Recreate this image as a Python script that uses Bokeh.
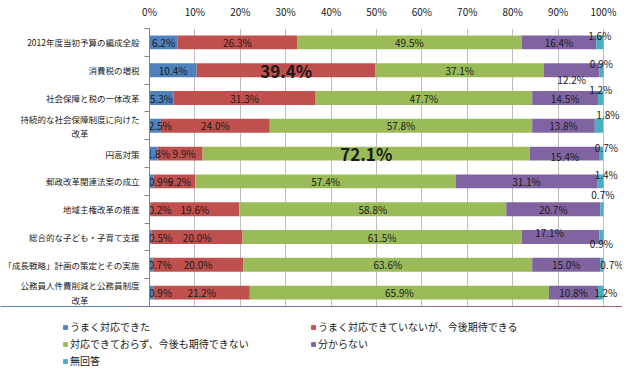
import numpy as np
from bokeh.plotting import figure
from bokeh.models import (ColumnDataSource, Range1d, FixedTicker, Legend, LegendItem)
from bokeh.core.properties import value
from bokeh.embed import file_html
from bokeh.resources import INLINE

categories = [
    "2012年度当初予算の編成全般",
    "消費税の増税",
    "社会保障と税の一体改革",
    "持続的な社会保障制度に向けた改革",
    "円高対策",
    "郵政改革関連法案の成立",
    "地域主権改革の推進",
    "総合的な子ども・子育て支援",
    "「成長戦略」計画の策定とその実施",
    "公務員人件費削減と公務員制度改革",
]
label_display = {
    "持続的な社会保障制度に向けた改革": "持続的な社会保障制度に向けた\n改革\u3000\u3000\u3000\u3000\u3000\u3000",
    "公務員人件費削減と公務員制度改革": "公務員人件費削減と公務員制度\n改革\u3000\u3000\u3000\u3000\u3000\u3000",
}
series_names = [
    "うまく対応できた",
    "うまく対応できていないが、今後期待できる",
    "対応できておらず、今後も期待できない",
    "分からない",
    "無回答",
]
good = [6.2, 10.4, 5.3, 2.5, 1.8, 0.9, 0.2, 0.5, 0.7, 0.9]
hopeful = [26.3, 39.4, 31.3, 24.0, 9.9, 9.2, 19.6, 20.0, 20.0, 21.2]
bad = [49.5, 37.1, 47.7, 57.8, 72.1, 57.4, 58.8, 61.5, 63.6, 65.9]
unknown = [16.4, 12.2, 14.5, 13.8, 15.4, 31.1, 20.7, 17.1, 15.0, 10.8]
no_answer = [1.6, 0.9, 1.2, 1.8, 0.7, 1.4, 0.7, 0.9, 0.7, 1.2]
x_ticks = [0, 10, 20, 30, 40, 50, 60, 70, 80, 90, 100]

colors = ["#4F81BD", "#C0504D", "#9BBB59", "#8064A2", "#4BACC6"]
FONT = "Noto Sans CJK JP"

# label placement tweaks (row, series) -> (dx px, dy px; screen, down = +), styling only
label_offsets = {
    (0, 4): (0, -7), (1, 4): (0, -7), (1, 3): (0, 9), (2, 4): (0, -9),
    (3, 4): (9, -11), (4, 4): (5, -6), (4, 3): (0, 3), (5, 4): (6, -7),
    (6, 4): (1, -15), (7, 3): (-11, -5), (7, 4): (0, 6), (8, 4): (10, 0),
    (9, 4): (5, 0),
    (3, 0): (5, 0), (4, 0): (5, 0), (5, 0): (9, 0), (6, 0): (10, 0),
    (7, 0): (10, 0), (8, 0): (9, 0), (9, 0): (9, 0), (5, 1): (5, 0), (4, 1): (4, 0),
}
bold_labels = {(1, 1), (4, 2)}

data = np.array([good, hopeful, bad, unknown, no_answer])
n = len(categories)
ypos = np.array([n - 0.5 - i for i in range(n)])

p = figure(width=622, height=306, output_backend="svg", toolbar_location=None,
           x_range=Range1d(0, 104.2), y_range=Range1d(0, n),
           x_axis_location="above", min_border_left=137, min_border_right=0,
           min_border_top=19, min_border_bottom=0)
p.outline_line_color = None
p.background_fill_color = "white"

sources = []
left = np.zeros(n)
for k, name in enumerate(series_names):
    vals = data[k]
    src = ColumnDataSource(dict(y=ypos, left=left.copy(), right=left + vals))
    sources.append(src)
    p.hbar(y="y", left="left", right="right", height=0.5, source=src,
           fill_color=colors[k], line_color=None)
    left = left + vals

# labels
lx, ly, lt, ldx, ldy, lsize, lstyle = [], [], [], [], [], [], []
cum = np.zeros(n)
for k in range(len(series_names)):
    for i in range(n):
        v = data[k][i]
        lx.append(cum[i] + v / 2)
        ly.append(ypos[i])
        lt.append(f"{v:.1f}%")
        dx, dy = label_offsets.get((i, k), (0, 0))
        ldx.append(dx)
        ldy.append(dy)
        if (i, k) in bold_labels:
            lsize.append("17px"); lstyle.append("bold")
        else:
            lsize.append("10px"); lstyle.append("normal")
    cum = cum + data[k]
lsrc = ColumnDataSource(dict(x=lx, y=ly, t=lt, dx=ldx, dy=ldy, s=lsize, st=lstyle))
p.text(x="x", y="y", text="t", x_offset="dx", y_offset="dy", text_font_size="s",
       text_font_style="st", text_align="center", text_baseline="middle",
       text_color="#1a1a1a", text_font=value(FONT), source=lsrc)

# x axis (top)
xa = p.xaxis[0]
xa.ticker = FixedTicker(ticks=x_ticks)
xa.major_label_overrides = {t: f"{t}%" for t in x_ticks}
xa.axis_line_color = None
xa.major_tick_line_color = None
xa.minor_tick_line_color = None
xa.major_label_standoff = 4
xa.major_label_text_font = FONT
xa.major_label_text_font_size = "10px"
xa.major_label_text_color = "#1a1a1a"

# y axis
ya = p.yaxis[0]
ya.ticker = FixedTicker(ticks=list(ypos), minor_ticks=list(range(n + 1)))
ya.major_label_overrides = {float(ypos[i]): label_display.get(c, c) for i, c in enumerate(categories)}
ya.axis_line_color = "#868686"
ya.major_tick_line_color = None
ya.major_tick_out = 0
ya.minor_tick_line_color = "#868686"
ya.minor_tick_out = 5
ya.minor_tick_in = 0
ya.major_label_standoff = 5
ya.major_label_text_font = FONT
ya.major_label_text_font_size = "8.5px"
ya.major_label_text_color = "#1a1a1a"

p.xgrid.grid_line_color = "#BEBEBE"
p.xgrid.ticker = FixedTicker(ticks=x_ticks)
p.ygrid.grid_line_color = None

# legend figure (separate root so its frame is not aligned with the chart's)
p2 = figure(width=622, height=62, output_backend="svg", toolbar_location=None,
            x_range=Range1d(0, 1), y_range=Range1d(-30, -29),
            x_axis_location=None, y_axis_location=None,
            min_border_left=0, min_border_right=0, min_border_top=0, min_border_bottom=0)
p2.outline_line_color = None
p2.xgrid.grid_line_color = None
p2.ygrid.grid_line_color = None
items = []
for k, name in enumerate(series_names):
    r = p2.hbar(y="y", left="left", right="right", height=0.5, source=sources[k],
                fill_color=colors[k], line_color=None)
    items.append(LegendItem(label=name, renderers=[r]))
legend_items = [items[0], items[2], items[4], items[1], items[3]]
legend = Legend(items=legend_items, ncols=2, location=(62, 0),
                glyph_width=6, glyph_height=6, label_height=14, spacing=2,
                padding=0, margin=0, label_width=238, label_standoff=2,
                label_text_font=FONT, label_text_font_size="10px",
                label_text_color="#1a1a1a", border_line_color=None,
                background_fill_alpha=0)
p2.add_layout(legend)

open("out.html", "w").write(file_html([p, p2], INLINE))
